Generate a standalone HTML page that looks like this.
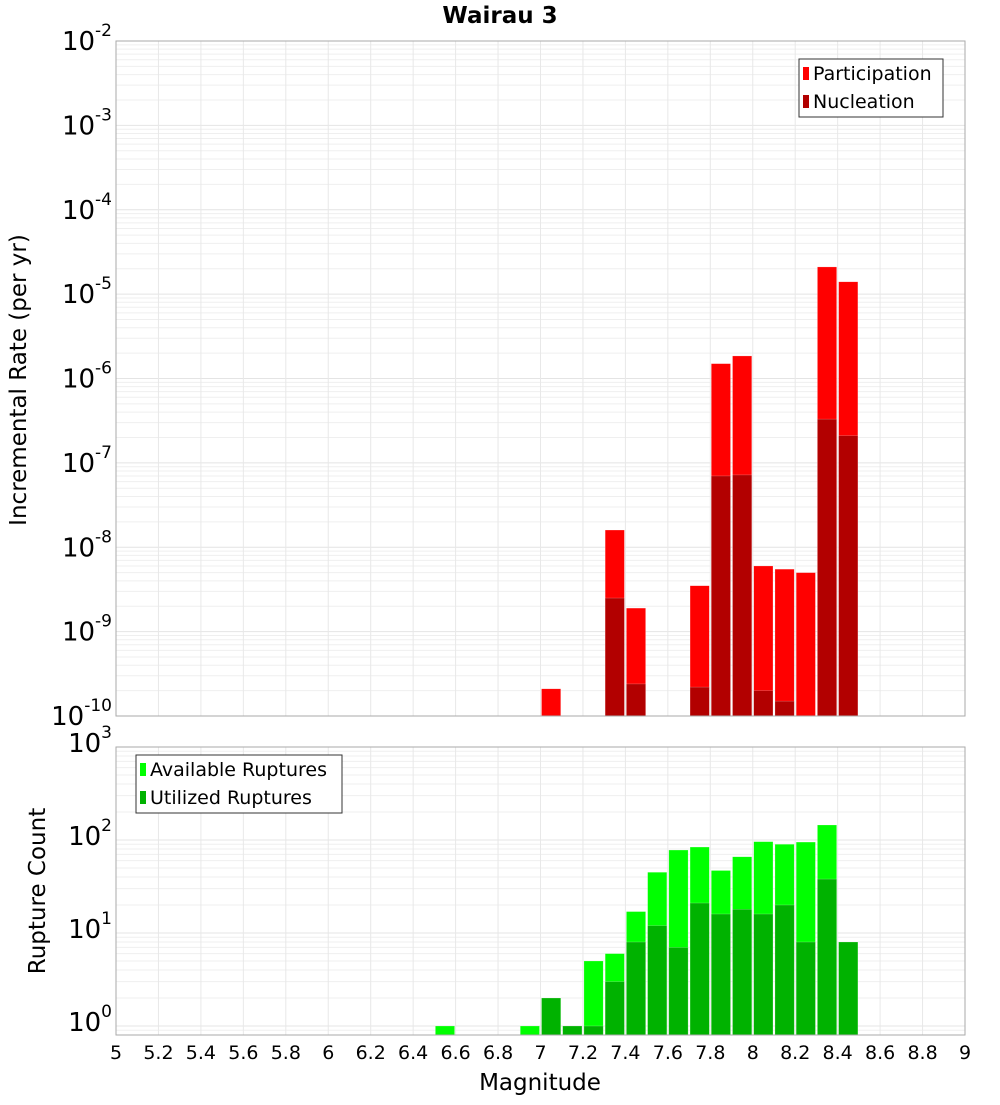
<!DOCTYPE html>
<html><head><meta charset="utf-8"><style>
body{margin:0;background:#fff;}
svg text{font-family:"DejaVu Sans","Liberation Sans",sans-serif;}
</style></head><body>
<svg id="c" width="1000" height="1100" xmlns="http://www.w3.org/2000/svg">
<rect width="1000" height="1100" fill="#fff"/>
<text x="500" y="23" text-anchor="middle" font-size="23" font-weight="bold">Wairau 3</text>
<g id="g"></g>
</svg>
<script>
const mags = [6.55,6.95,7.05,7.15,7.25,7.35,7.45,7.55,7.65,7.75,7.85,7.95,8.05,8.15,8.25,8.35,8.45];
const participation = [0,0,2.1e-10,0,0,1.6e-8,1.9e-9,0,0,3.5e-9,1.5e-6,1.85e-6,6e-9,5.5e-9,5e-9,2.1e-5,1.4e-5];
const nucleation = [0,0,0,0,0,2.5e-9,2.4e-10,0,0,2.2e-10,7e-8,7.2e-8,2e-10,1.5e-10,0,3.3e-7,2.1e-7];
const available = [1,1,2,1,5,6,17,45,78,84,47,66,96,90,95,145,8];
const utilized = [0,0,2,1,1,3,8,12,7,21,16,18,16,20,8,38,8];
const xTicks = [5,5.2,5.4,5.6,5.8,6,6.2,6.4,6.6,6.8,7,7.2,7.4,7.6,7.8,8,8.2,8.4,8.6,8.8,9];
const topExps = [-2,-3,-4,-5,-6,-7,-8,-9,-10];
const botExps = [3,2,1,0];

const NS="http://www.w3.org/2000/svg";
const g=document.getElementById('g');
function el(t,a,p){const e=document.createElementNS(NS,t);for(const k in a)e.setAttribute(k,a[k]);(p||g).appendChild(e);return e;}
const X0=116,X1=965;
const xs=m=>X0+(m-5)/4*(X1-X0);
const T0=41,T1=716;
const yTop=v=>T0+(-2-Math.log10(v))/8*(T1-T0);
const B0=747,B1=1035;
const yBot=v=>1026-Math.log10(v)*93;
const bw=(X1-X0)/40;

function frame(y0,y1,name,minorFn,lo,hi){
  const f=el('g',{});
  
  
  for(let e=lo;e<hi;e++)for(let k=1;k<10;k++){const y=minorFn(k*Math.pow(10,e));if(y>=y0&&y<=y1)el('line',{x1:X0,x2:X1,y1:y,y2:y,stroke:k==1?'#e4e4e4':'#efefef','stroke-width':1},f);}
  xTicks.forEach(t=>{const x=xs(t);el('line',{x1:x,x2:x,y1:y0,y2:y1,stroke:'#e8e8e8'},f);});
  return f;
}
frame(T0,T1,'top-grid',yTop,-10,-1);
frame(B0,B1,'bottom-grid',yBot,-1,3);

function bars(vals,color,yf,base,name){
  vals.forEach((v,i)=>{if(v<=0)return;const x=xs(mags[i])-bw/2+1;const y=yf(v);
    const r=el('rect',{x:x,y:y,width:bw-2,height:base-y,fill:color,stroke:'#fff','stroke-opacity':0.4,'stroke-width':0.5});
    
    });
}
bars(participation,'#ff0000',yTop,T1,'participation-bar');
bars(nucleation,'#b20000',yTop,T1,'nucleation-bar');
bars(available,'#00ff00',yBot,B1,'available-bar');
bars(utilized,'#00b200',yBot,B1,'utilized-bar');

el('rect',{x:X0,y:T0,width:X1-X0,height:T1-T0,fill:'none',stroke:'#aaa'});
el('rect',{x:X0,y:B0,width:X1-X0,height:B1-B0,fill:'none',stroke:'#aaa'});

function expLabel(y,e,name){
  const t=el('text',{x:112,y:y+9,'text-anchor':'end','font-size':26});
  
  
  const a=el('tspan',{},t);a.textContent='10';
  const b=el('tspan',{dy:-14,'font-size':17},t);b.textContent=String(e);
}
topExps.forEach(e=>expLabel(yTop(Math.pow(10,e)),e,'y-tick-top'));
botExps.forEach(e=>expLabel(yBot(Math.pow(10,e))-4,e,'y-tick-bottom'));
xTicks.forEach(t=>{const x=xs(t);const s=el('text',{x:x,y:1059,'text-anchor':'middle','font-size':19});
  
  
  s.textContent=String(t);});

let tt=el('text',{x:540,y:1090,'text-anchor':'middle','font-size':23});


tt.textContent='Magnitude';
tt=el('text',{x:0,y:0,'text-anchor':'middle','font-size':23,transform:'translate(26,380) rotate(-90)'});


tt.textContent='Incremental Rate (per yr)';
tt=el('text',{x:0,y:0,'text-anchor':'middle','font-size':23,transform:'translate(45,891) rotate(-90)'});


tt.textContent='Rupture Count';

function legend(x,y,w,items,name){
  const L=el('g',{});
  
  
  el('rect',{x:x,y:y,width:w,height:58,fill:'#fff',stroke:'#333'},L);
  items.forEach((it,i)=>{const yy=y+14+i*28;
    el('rect',{x:x+4,y:yy-6,width:6,height:13,fill:it[1]},L);
    const t=el('text',{x:x+14,y:yy+7,'font-size':19},L);t.textContent=it[0];});
}
legend(799,59,144,[['Participation','#ff0000'],['Nucleation','#b20000']],'legend-top');
legend(136,755,206,[['Available Ruptures','#00ff00'],['Utilized Ruptures','#00b200']],'legend-bottom');
</script>
</body></html>
